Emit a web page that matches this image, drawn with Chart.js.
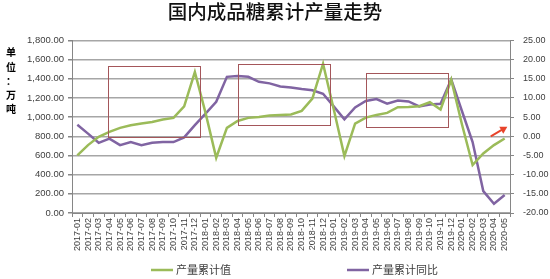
<!DOCTYPE html>
<html>
<head>
<meta charset="utf-8">
<script src="https://cdn.jsdelivr.net/npm/chart.js@4/dist/chart.umd.min.js"></script>
<style>
  html, body { margin: 0; padding: 0; background: #fff; }
  #c { display: block; }
</style>
</head>
<body>
<canvas id="c" width="550" height="279"></canvas>
<script>
// 国内成品糖累计产量走势 — cumulative output (left) vs YoY % (right)
const months = [
  '2017-01', '2017-02', '2017-03', '2017-04', '2017-05', '2017-06', '2017-07', '2017-08', '2017-09', '2017-10', '2017-11', '2017-12',
  '2018-01', '2018-02', '2018-03', '2018-04', '2018-05', '2018-06', '2018-07', '2018-08', '2018-09', '2018-10', '2018-11', '2018-12',
  '2019-01', '2019-02', '2019-03', '2019-04', '2019-05', '2019-06', '2019-07', '2019-08', '2019-09', '2019-10', '2019-11', '2019-12',
  '2020-01', '2020-02', '2020-03', '2020-04', '2020-05'
];

// 产量累计值 (万吨)
const outputCum = [
  600, 708, 794, 846, 888, 916, 933, 950, 975, 992, 1113, 1470,
  1044, 576, 888, 960, 992, 1002, 1016, 1023, 1027, 1065, 1193, 1557,
  1082, 593, 933, 995, 1023, 1044, 1103, 1106, 1113, 1155, 1079, 1390,
  926, 500, 621, 708, 777
];

// 产量累计同比 (%)
const outputYoY = [
  3.0, 0.7, -1.7, -0.6, -2.3, -1.5, -2.3, -1.7, -1.5, -1.5, -0.3, 2.9,
  5.9, 9.0, 15.5, 15.7, 15.5, 14.2, 13.8, 13.0, 12.7, 12.3, 12.0, 11.1,
  7.8, 4.4, 7.5, 9.2, 9.7, 8.5, 9.3, 9.1, 7.8, 8.3, 8.5, 14.8,
  6.6, -1.5, -14.3, -17.6, -15.3
];

const leftTicks = { min: 0, max: 1800, step: 200 };
const rightTicks = { min: -20, max: 25, step: 5 };

// highlight boxes: category index range, left-axis value range
const boxes = [
  { from: 2.87, to: 11.49, low: 790, high: 1530 },
  { from: 15.05, to: 23.66, low: 916, high: 1550 },
  { from: 27.03, to: 34.7, low: 895, high: 1457 }
];
// red arrow: category index and right-axis value
const arrow = { from: [38.7, 0.0], to: [40.25, 2.5] };

const GREEN = '#9BBB59';
const PURPLE = '#8064A2';
const TICK = '#404040';
const GRID = '#a6a6a6';

const markup = {
  id: 'markup',
  afterDatasetsDraw(chart) {
    const { ctx, scales } = chart;
    const x = scales.x, yl = scales.y, yr = scales.y1;
    ctx.save();
    ctx.strokeStyle = '#A4565A';
    ctx.lineWidth = 1;
    boxes.forEach(b => {
      const x0 = Math.round(x.getPixelForValue(b.from)) + 0.5;
      const x1 = Math.round(x.getPixelForValue(b.to)) + 0.5;
      const y0 = Math.round(yl.getPixelForValue(b.high)) + 0.5;
      const y1 = Math.round(yl.getPixelForValue(b.low)) + 0.5;
      ctx.strokeRect(x0, y0, x1 - x0, y1 - y0);
    });

    const ax0 = x.getPixelForValue(arrow.from[0]), ay0 = yr.getPixelForValue(arrow.from[1]);
    const ax1 = x.getPixelForValue(arrow.to[0]), ay1 = yr.getPixelForValue(arrow.to[1]);
    const ang = Math.atan2(ay1 - ay0, ax1 - ax0);
    ctx.strokeStyle = '#E8432B';
    ctx.fillStyle = '#E8432B';
    ctx.lineWidth = 2;
    ctx.beginPath();
    ctx.moveTo(ax0, ay0);
    ctx.lineTo(ax1 - 4 * Math.cos(ang), ay1 - 4 * Math.sin(ang));
    ctx.stroke();
    ctx.beginPath();
    ctx.moveTo(ax1, ay1);
    ctx.lineTo(ax1 - 7 * Math.cos(ang) + 4 * Math.sin(ang), ay1 - 7 * Math.sin(ang) - 4 * Math.cos(ang));
    ctx.lineTo(ax1 - 7 * Math.cos(ang) - 4 * Math.sin(ang), ay1 - 7 * Math.sin(ang) + 4 * Math.cos(ang));
    ctx.closePath();
    ctx.fill();
    ctx.restore();
  },
  afterDraw(chart) {
    const { ctx } = chart;
    ctx.save();
    // vertical unit label
    ctx.font = 'bold 10px "Noto Sans CJK SC"';
    ctx.fillStyle = '#000';
    ctx.textAlign = 'center';
    ctx.textBaseline = 'middle';
    const unit = '单位：万吨';
    [...unit].forEach((ch, i) => ctx.fillText(ch, 11, 52.5 + i * 14.3));

    // legend
    ctx.font = '11px "Noto Sans CJK SC"';
    ctx.fillStyle = TICK;
    ctx.textAlign = 'left';
    const items = [
      { ds: chart.data.datasets[0], x: 151 },
      { ds: chart.data.datasets[1], x: 347 }
    ];
    const ly = 270;
    items.forEach(it => {
      ctx.strokeStyle = it.ds.borderColor;
      ctx.lineWidth = 2.5;
      ctx.beginPath();
      ctx.moveTo(it.x, ly);
      ctx.lineTo(it.x + 22, ly);
      ctx.stroke();
      ctx.fillText(it.ds.label, it.x + 25, ly);
    });
    ctx.restore();
  }
};

new Chart(document.getElementById('c'), {
  type: 'line',
  data: {
    labels: months,
    datasets: [
      {
        label: '产量累计值',
        data: outputCum,
        yAxisID: 'y',
        borderColor: GREEN,
        backgroundColor: GREEN,
        borderWidth: 2.5,
        pointRadius: 0,
        tension: 0,
      },
      {
        label: '产量累计同比',
        data: outputYoY,
        yAxisID: 'y1',
        borderColor: PURPLE,
        backgroundColor: PURPLE,
        borderWidth: 2.5,
        pointRadius: 0,
        tension: 0,
      }
    ]
  },
  options: {
    responsive: false,
    animation: false,
    layout: { padding: { left: 0, right: 0, top: 0, bottom: 24 } },
    plugins: {
      legend: { display: false },
      tooltip: { enabled: false },
      title: {
        display: true,
        text: '国内成品糖累计产量走势',
        color: '#111',
        font: { family: '"Noto Sans CJK SC"', size: 19.5, weight: '500' },
        padding: { top: 0, bottom: 17 }
      }
    },
    scales: {
      x: {
        offset: true,
        grid: { display: true, drawOnChartArea: false, offset: true, tickLength: 4, color: '#868686' },
        border: { display: true, color: '#868686' },
        ticks: {
          autoSkip: false, maxRotation: 90, minRotation: 90, padding: 1,
          color: TICK, font: { family: '"Liberation Sans", Arial', size: 9 }
        },
        afterFit(s) { s.height = 42; }
      },
      y: {
        position: 'left',
        min: leftTicks.min, max: leftTicks.max,
        grid: { color: GRID, lineWidth: 1.5, tickLength: 4, tickColor: '#868686' },
        border: { display: true, color: '#868686' },
        ticks: {
          stepSize: leftTicks.step, padding: 4, color: TICK,
          font: { family: '"Liberation Sans", Arial', size: 9.5 },
          callback: v => Number(v).toLocaleString('en-US', { minimumFractionDigits: 2, maximumFractionDigits: 2 })
        },
        afterFit(s) { s.width = 72; }
      },
      y1: {
        position: 'right',
        min: rightTicks.min, max: rightTicks.max,
        grid: { drawOnChartArea: false, tickLength: 4, color: '#868686' },
        border: { display: true, color: '#868686' },
        ticks: {
          stepSize: rightTicks.step, padding: 9, color: TICK,
          font: { family: '"Liberation Sans", Arial', size: 9 },
          callback: v => Number(v).toFixed(2)
        },
        afterFit(s) { s.width = 40; }
      }
    }
  },
  plugins: [markup]
});
</script>
</body>
</html>
